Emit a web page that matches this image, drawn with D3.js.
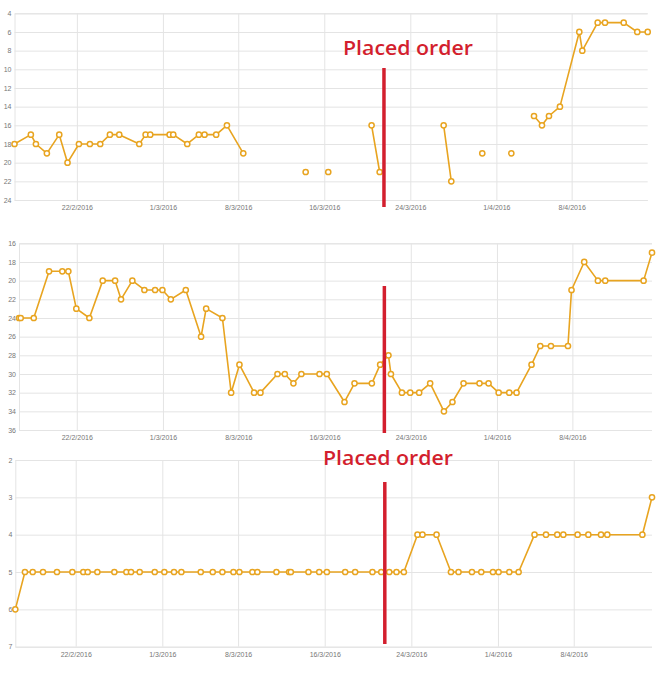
<!DOCTYPE html>
<html>
<head>
<meta charset="utf-8">
<script src="https://cdn.jsdelivr.net/npm/d3@7"></script>
<style>
  html, body { margin: 0; padding: 0; background: #fff; }
  svg { display: block; }
  .tick text { font-family: "Liberation Sans", Arial, sans-serif; font-size: 7px; fill: #777; }
</style>
</head>
<body>
<svg id="chart" width="665" height="700"></svg>
<script>
// ---------- DATA ----------
// x values: days after 22 Feb 2016 00:00 (fractional = time of day)
const baseDate = "2016-02-22";
const xTickDates = ["2016-02-22", "2016-03-01", "2016-03-08", "2016-03-16", "2016-03-24", "2016-04-01", "2016-04-08"];
const xTickLabels = ["22/2/2016", "1/3/2016", "8/3/2016", "16/3/2016", "24/3/2016", "1/4/2016", "8/4/2016"];
const orderDay = 28.55; // "Placed order" moment (days after base)
const orderLabel = "Placed order";

// Panel 1 (null = no reading, breaks the line)
const days1 = [-5.80, -4.28, -3.81, -2.79, -1.64, -0.87, 0.19, 1.21, 2.17, 3.07, 3.94, 5.80, 6.39, 6.82, 8.62, 8.96, 10.26, 11.34, 11.87, 12.95, 13.95, 15.47,
  18.0, 21.27, 22.3, 23.37, 25.5, 27.40, 28.15, 31.0, 34.10, 34.81, 36.2, 37.69, 39.0, 40.39, 41.4, 42.50, 43.24, 43.89, 44.91, 46.71, 46.99, 48.42, 49.10, 50.84, 52.10, 53.07];
const rank1 = [18, 17, 18, 19, 17, 20, 18, 18, 18, 17, 17, 18, 17, 17, 17, 17, 18, 17, 17, 17, 16, 19,
  null, 21, null, 21, null, 16, 21, null, 16, 22, null, 19, null, 19, null, 15, 16, 15, 14, 6, 8, 5, 5, 5, 6, 6];
const yTicks1 = [4, 6, 8, 10, 12, 14, 16, 18, 20, 22, 24];

// Panel 2
const days2 = [-5.36, -5.20, -3.99, -2.57, -1.34, -0.78, -0.04, 1.17, 2.41, 3.56, 4.11, 5.16, 6.28, 7.27, 7.95, 8.73, 10.12, 11.54, 12.01, 13.52, 14.33, 15.10, 16.46, 17.05, 18.63, 19.31, 20.11, 20.85, 22.53, 23.21,
  24.85, 25.78, 27.39, 28.16, 28.93, 29.16, 30.18, 30.95, 31.78, 32.80, 34.08, 34.87, 35.90, 37.38, 38.22, 39.16, 40.14, 40.82, 42.21, 43.02, 44.01, 45.59, 45.92, 47.10, 48.37, 49.05, 52.61, 53.39];
const rank2 = [24, 24, 24, 19, 19, 19, 23, 24, 20, 20, 22, 20, 21, 21, 21, 22, 21, 26, 23, 24, 32, 29, 32, 32, 30, 30, 31, 30, 30, 30,
  33, 31, 31, 29, 28, 30, 32, 32, 32, 31, 34, 33, 31, 31, 31, 32, 32, 32, 29, 27, 27, 27, 21, 18, 20, 20, 20, 17];
const yTicks2 = [16, 18, 20, 22, 24, 26, 28, 30, 32, 34, 36];

// Panel 3
const days3 = [-5.58, -4.69, -3.97, -3.02, -1.73, -0.31, 0.70, 1.11, 2.00, 3.57, 4.68, 5.11, 5.91, 7.30, 8.19, 9.08, 9.76, 11.55, 12.66, 13.55, 14.57, 15.12, 16.32, 16.78, 18.54, 19.71, 19.87, 21.50, 22.49, 23.20,
  24.89, 25.81, 27.41, 28.22, 28.96, 29.63, 30.31, 31.57, 32.03, 33.33, 34.66, 35.36, 36.60, 37.46, 38.54, 39.06, 40.05, 40.91, 42.38, 43.44, 44.48, 45.04, 46.36, 47.35, 48.52, 49.10, 52.34, 53.23];
const rank3 = [6, 5, 5, 5, 5, 5, 5, 5, 5, 5, 5, 5, 5, 5, 5, 5, 5, 5, 5, 5, 5, 5, 5, 5, 5, 5, 5, 5, 5, 5,
  5, 5, 5, 5, 5, 5, 5, 4, 4, 4, 5, 5, 5, 5, 5, 5, 5, 5, 4, 4, 4, 4, 4, 4, 4, 4, 4, 3];
const yTicks3 = [2, 3, 4, 5, 6, 7];

// ---------- LAYOUT ----------
const panels = [
  { days: days1, values: rank1, yTicks: yTicks1, left: 14.5, right: 647.7, top: 13.3, bottom: 200, lineTop: 68, lineBottom: 207, labelX: 408, labelY: 55 },
  { days: days2, values: rank2, yTicks: yTicks2, left: 19, right: 652, top: 243.3, bottom: 430, lineTop: 286, lineBottom: 433, labelX: null, labelY: null },
  { days: days3, values: rank3, yTicks: yTicks3, left: 15.3, right: 652, top: 460, bottom: 646.7, lineTop: 482, lineBottom: 644, labelX: 388, labelY: 465 }
];

const lineColor = "#e8a420";
const orderColor = "#d31f2e";
const gridColor = "#e4e4e4";
const base = d3.timeParse("%Y-%m-%d")(baseDate);
const toDate = d => new Date(base.getTime() + d * 86400000);
const parseDay = d3.timeParse("%Y-%m-%d");

const svg = d3.select("#chart");

panels.forEach(p => {
  const data = p.days.map((d, i) => ({ t: toDate(d), v: p.values[i] }));
  const valid = data.filter(d => d.v != null);
  const x = d3.scaleTime().domain(d3.extent(valid, d => d.t)).range([p.left, p.right]);
  const y = d3.scaleLinear().domain(d3.extent(p.yTicks)).range([p.top, p.bottom]);

  const g = svg.append("g");

  // horizontal grid + y labels
  const yAxis = d3.axisLeft(y).tickValues(p.yTicks).tickSize(-(p.right - p.left)).tickPadding(3).tickFormat(d3.format("d"));
  const gy = g.append("g").attr("transform", `translate(${p.left},0)`).call(yAxis);
  gy.select(".domain").attr("stroke", gridColor);
  gy.selectAll(".tick line").attr("stroke", gridColor);

  // vertical grid + x labels
  const xAxis = d3.axisBottom(x).tickValues(xTickDates.map(parseDay)).tickSize(-(p.bottom - p.top))
    .tickPadding(5).tickFormat((d, i) => xTickLabels[i]);
  const gx = g.append("g").attr("transform", `translate(0,${p.bottom})`).call(xAxis);
  gx.select(".domain").remove();
  gx.selectAll(".tick line").attr("stroke", gridColor);

  // line
  const line = d3.line().defined(d => d.v != null).x(d => x(d.t)).y(d => y(d.v));
  g.append("path").datum(data).attr("fill", "none").attr("stroke", lineColor)
    .attr("stroke-width", 1.6).attr("stroke-linejoin", "round").attr("d", line);

  // points
  g.selectAll("circle.pt").data(valid).join("circle").attr("class", "pt")
    .attr("cx", d => x(d.t)).attr("cy", d => y(d.v)).attr("r", 2.6)
    .attr("fill", "#fff").attr("stroke", lineColor).attr("stroke-width", 1.5);

  // placed order marker
  g.append("line").attr("x1", x(toDate(orderDay))).attr("x2", x(toDate(orderDay)))
    .attr("y1", p.lineTop).attr("y2", p.lineBottom)
    .attr("stroke", orderColor).attr("stroke-width", 3.5);

  if (p.labelX != null) {
    g.append("text").attr("x", p.labelX).attr("y", p.labelY).attr("text-anchor", "middle")
      .attr("font-family", "'Open Sans', Lato, sans-serif").attr("font-weight", 600)
      .attr("font-size", 19).attr("textLength", 130).attr("lengthAdjust", "spacingAndGlyphs")
      .attr("fill", orderColor).text(orderLabel);
  }
});
</script>
</body>
</html>
